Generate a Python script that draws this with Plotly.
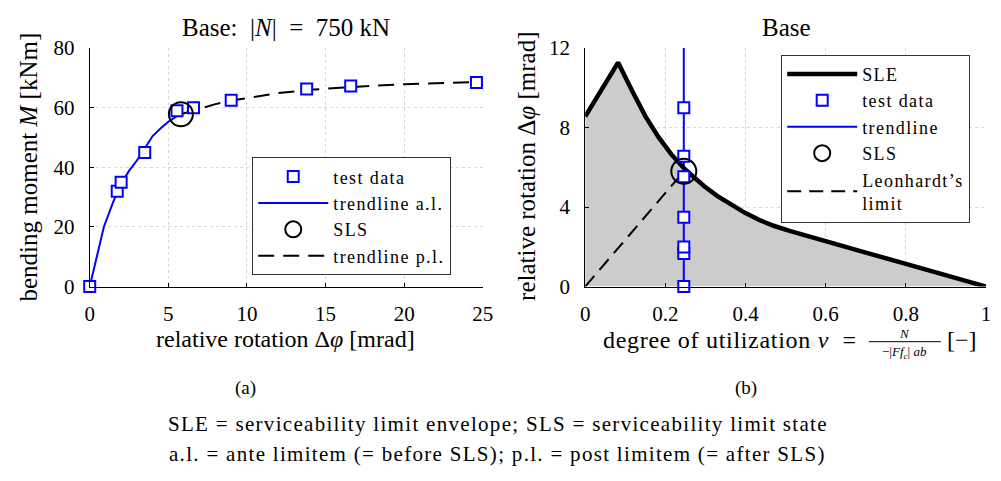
import plotly.graph_objects as go

# ---- (a) moment-rotation test, base, |N| = 750 kN ----
rot_test = [0.0, 1.75, 2.0, 3.5, 5.55, 6.6, 9.0, 13.8, 16.6, 24.6]
mom_test = [0.0, 32.0, 35.0, 45.0, 59.0, 60.0, 62.5, 66.3, 67.3, 68.5]

rot_al = [0.0, 0.5, 0.9, 1.5, 2.0, 2.5, 3.0, 3.5, 4.0, 4.5, 5.0, 5.5, 5.8]
mom_al = [0.0, 11.5, 20.0, 28.5, 34.5, 38.8, 42.3, 46.3, 50.5, 53.0, 55.3, 57.0, 57.8]

rot_pl = [5.8, 7.0, 8.0, 9.0, 10.0, 12.0, 14.0, 16.0, 18.0, 20.0, 22.0, 25.0]
mom_pl = [57.8, 59.8, 61.2, 62.4, 63.3, 64.9, 66.0, 66.8, 67.4, 67.9, 68.3, 68.7]

sls_rot = [5.8]
sls_mom = [57.8]

# ---- (b) serviceability limit envelope ----
nu_sle = [0.0, 0.082, 0.117, 0.15, 0.183, 0.215, 0.248, 0.297, 0.33, 0.363, 0.4,
          0.437, 0.47, 0.51, 0.55, 0.6, 0.7, 0.8, 0.9, 1.0]
dphi_sle = [8.56, 11.27, 9.85, 8.58, 7.52, 6.65, 5.92, 5.05, 4.55, 4.12, 3.7,
            3.33, 3.06, 2.8, 2.56, 2.28, 1.71, 1.14, 0.57, 0.0]

nu_test = 0.246
dphi_test = [0.0, 1.67, 1.99, 3.49, 5.53, 6.56, 9.0]

nu_trend = [0.246, 0.246]
dphi_trend = [0.0, 12.0]

nu_leon = [0.0, 0.238]
dphi_leon = [0.0, 5.6]

sls_nu = [0.246]
sls_dphi = [5.8]

FONT = "Liberation Serif"
BLUE = "#0000ff"
W, H = 1001, 481
LEG_LS = 1.4  # letter spacing of legend entries


def px(x):
    return x / W


def py(y):
    return 1 - y / H


def spaced(s, ls):
    return f"<span style='letter-spacing:{ls}px'>{s}</span>"


fig = go.Figure()

# (a)
fig.add_trace(go.Scatter(x=rot_al, y=mom_al, mode="lines",
                         name=spaced("trendline a.l.", LEG_LS),
                         line=dict(color=BLUE, width=2), legend="legend", legendrank=2,
                         xaxis="x", yaxis="y"))
fig.add_trace(go.Scatter(x=rot_pl, y=mom_pl, mode="lines",
                         name=spaced("trendline p.l.", LEG_LS),
                         line=dict(color="black", width=2, dash="16px,9px"), legend="legend",
                         legendrank=4, xaxis="x", yaxis="y"))
fig.add_trace(go.Scatter(x=rot_test, y=mom_test, mode="markers",
                         name=spaced("test data", LEG_LS),
                         marker=dict(symbol="square", size=11, color="white",
                                     line=dict(color=BLUE, width=2)),
                         cliponaxis=False, legend="legend", legendrank=1, xaxis="x", yaxis="y"))
fig.add_trace(go.Scatter(x=sls_rot, y=sls_mom, mode="markers", name=spaced("SLS", LEG_LS),
                         marker=dict(symbol="circle-open", size=24, color="black",
                                     line=dict(color="black", width=2)),
                         cliponaxis=False, legend="legend", legendrank=3, xaxis="x", yaxis="y"))

# (b)
fig.add_trace(go.Scatter(x=nu_sle, y=dphi_sle, mode="lines", fill="tozeroy",
                         fillcolor="#cccccc", line=dict(width=0), showlegend=False,
                         hoverinfo="skip", xaxis="x2", yaxis="y2"))
fig.add_trace(go.Scatter(x=nu_leon, y=dphi_leon, mode="lines",
                         name=spaced("Leonhardt’s", LEG_LS) + "<br>" + spaced("limit", LEG_LS),
                         line=dict(color="black", width=2, dash="14px,8px"), legend="legend2",
                         legendrank=5, xaxis="x2", yaxis="y2"))
fig.add_trace(go.Scatter(x=nu_trend, y=dphi_trend, mode="lines",
                         name=spaced("trendline", LEG_LS),
                         line=dict(color=BLUE, width=2), legend="legend2", legendrank=3,
                         xaxis="x2", yaxis="y2"))
fig.add_trace(go.Scatter(x=nu_sle, y=dphi_sle, mode="lines", name=spaced("SLE", LEG_LS),
                         line=dict(color="black", width=4.5), legend="legend2", legendrank=1,
                         cliponaxis=False, xaxis="x2", yaxis="y2"))
fig.add_trace(go.Scatter(x=[nu_test] * len(dphi_test), y=dphi_test, mode="markers",
                         name=spaced("test data", LEG_LS),
                         marker=dict(symbol="square", size=11, color="white",
                                     line=dict(color=BLUE, width=2)),
                         cliponaxis=False, legend="legend2", legendrank=2, xaxis="x2", yaxis="y2"))
fig.add_trace(go.Scatter(x=sls_nu, y=sls_dphi, mode="markers", name=spaced("SLS", LEG_LS),
                         marker=dict(symbol="circle-open", size=25, color="black",
                                     line=dict(color="black", width=2)),
                         cliponaxis=False, legend="legend2", legendrank=4, xaxis="x2", yaxis="y2"))

axis_common = dict(showline=True, linecolor="black", linewidth=1, ticks="inside",
                   ticklen=4, tickcolor="black", showgrid=True, gridcolor="#d6d6d6",
                   griddash="dot", gridwidth=1, zeroline=False, mirror=False,
                   tickfont=dict(family=FONT, size=21, color="black"))

y_dom = [py(289), py(38)]
fig.update_layout(
    width=W, height=H,
    margin=dict(l=0, r=0, t=0, b=0),
    paper_bgcolor="white", plot_bgcolor="white",
    font=dict(family=FONT, color="black"),
    xaxis=dict(domain=[px(86), px(485)], range=[0, 25], tickvals=[0, 5, 10, 15, 20, 25],
               anchor="y", ticklabelstandoff=8, **axis_common),
    yaxis=dict(domain=y_dom, range=[0, 80], tickvals=[0, 20, 40, 60, 80], anchor="x",
               ticklabelstandoff=10, **axis_common),
    xaxis2=dict(domain=[px(589), px(996)], range=[0, 1],
                tickvals=[0, 0.2, 0.4, 0.6, 0.8, 1.0],
                ticktext=["0", "0.2", "0.4", "0.6", "0.8", "1"], anchor="y2",
                ticklabelstandoff=8, **axis_common),
    yaxis2=dict(domain=y_dom, range=[0, 12], tickvals=[0, 4, 8, 12], anchor="x2",
                ticklabelstandoff=10, **axis_common),
    legend=dict(x=px(251), y=py(153), xanchor="left", yanchor="top",
                bgcolor="white", bordercolor="#333333", borderwidth=1,
                font=dict(family=FONT, size=18, color="black"), itemwidth=70,
                tracegroupgap=0),
    legend2=dict(x=px(788), y=py(45), xanchor="left", yanchor="top",
                 bgcolor="white", bordercolor="#333333", borderwidth=1,
                 font=dict(family=FONT, size=18, color="black"), itemwidth=70,
                 tracegroupgap=0),
    showlegend=True,
)

ann = []


def text(x, y, s, size=20, xanchor="center", yanchor="middle", angle=0):
    ann.append(dict(x=px(x), y=py(y), xref="paper", yref="paper", text=s, showarrow=False,
                    xanchor=xanchor, yanchor=yanchor, textangle=angle, borderpad=0,
                    font=dict(family=FONT, size=size, color="black")))


# titles
text(285, 16, "Base:  |<i>N</i>|  =  750 kN", size=25)
text(793, 16, "Base", size=25)
# axis titles
text(285, 344, "relative rotation Δ<i>φ</i> [mrad]", size=24)
text(24, 163, "bending moment <i>M</i> [kNm]", size=25, angle=-90)
text(530, 163, "relative rotation Δ<i>φ</i> [mrad]", size=25, angle=-90)
text(866, 345, spaced("degree of utilization <i>ν</i>  =", 0.7), size=24, xanchor="right")
text(913, 338, "<i>N</i>", size=13)
text(913, 358, "−|<i>Ff</i><sub><i>c</i></sub>| <i>ab</i>", size=13)
text(955, 345, "[−]", size=24, xanchor="left")
# panel labels and caption
text(244, 396, "(a)", size=19)
text(752, 396, "(b)", size=19)
text(500, 434, spaced("SLE = serviceability limit envelope; SLS = serviceability limit state", 1.3),
     size=21)
text(500, 465, spaced("a.l. = ante limitem (= before SLS); p.l. = post limitem (= after SLS)", 1.3),
     size=21)

fig.update_layout(annotations=ann,
                  shapes=[dict(type="line", xref="paper", yref="paper",
                               x0=px(877), x1=px(950), y0=py(347), y1=py(347),
                               line=dict(color="black", width=1))])

fig.write_html("out.html")
